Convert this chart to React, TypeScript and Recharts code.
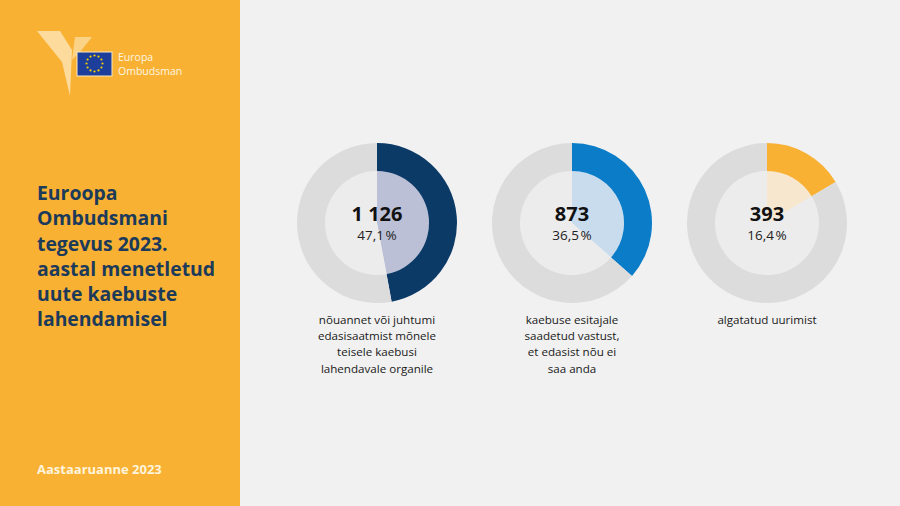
import { PieChart, Pie, Cell } from 'recharts';

// Values
const categories = [
  'nõuannet või juhtumi edasisaatmist mõnele teisele kaebusi lahendavale organile',
  'kaebuse esitajale saadetud vastust, et edasist nõu ei saa anda',
  'algatatud uurimist',
];
const counts = [1126, 873, 393];
const countLabels = ['1 126', '873', '393'];
const shareLabels = ['47,1\u202F%', '36,5\u202F%', '16,4\u202F%'];
const labelLines = [
  ['nõuannet või juhtumi', 'edasisaatmist mõnele', 'teisele kaebusi', 'lahendavale organile'],
  ['kaebuse esitajale', 'saadetud vastust,', 'et edasist nõu ei', 'saa anda'],
  ['algatatud uurimist'],
];
const ringColors = ['#0b3a67', '#0a7cc8', '#f8b133'];
const innerColors = ['#bcc0d6', '#c9dcee', '#f8e7cf'];

const total = counts.reduce((a, b) => a + b, 0);
const centersX = [377, 572, 767];
const CY = 223;
const FONT = '"Open Sans", "Noto Sans", sans-serif';

function Logo() {
  const stars = Array.from({ length: 12 }, (_, i) => {
    const a = (i / 12) * Math.PI * 2;
    return { x: 94.5 + 8 * Math.cos(a), y: 63.5 + 8 * Math.sin(a) };
  });
  return (
    <svg width={240} height={110} style={{ position: 'absolute', left: 0, top: 0 }}>
      <polygon points="37,31 60,31 72,50 70,96 62,62" fill="#fde9c0" opacity={0.75} />
      <polygon points="75,37 92,37 80,52 72,60" fill="#fde9c0" opacity={0.6} />
      <rect x={77} y={52} width={35} height={24} fill="#1d3f9b" stroke="#fde9c0" strokeWidth={1} />
      {stars.map((s, i) => (
        <circle key={i} cx={s.x} cy={s.y} r={1.1} fill="#f5d000" />
      ))}
      <text x={118} y={61} fontSize={10.5} fill="#fff6e2" fontFamily={FONT}>Europa</text>
      <text x={118} y={75} fontSize={10.5} fill="#fff6e2" fontFamily={FONT}>Ombudsman</text>
    </svg>
  );
}

export default function App() {
  const titleLines = ['Euroopa', 'Ombudsmani', 'tegevus 2023.', 'aastal menetletud', 'uute kaebuste', 'lahendamisel'];
  return (
    <div style={{ position: 'absolute', left: 0, top: 0, width: 900, height: 506, background: '#f1f1f1', fontFamily: FONT, overflow: 'hidden' }}>
      <div style={{ position: 'absolute', left: 0, top: 0, width: 240, height: 506, background: '#f8b133' }}>
        <Logo />
        <div style={{ position: 'absolute', left: 37, top: 180, color: '#1c3a5a', fontWeight: 700, fontSize: 19.4, lineHeight: '25.3px' }}>
          {titleLines.map((l) => (
            <div key={l} style={{ whiteSpace: 'nowrap' }}>{l}</div>
          ))}
        </div>
        <div style={{ position: 'absolute', left: 37, top: 460, color: '#fff4dc', fontWeight: 700, fontSize: 13 }}>
          Aastaaruanne 2023
        </div>
      </div>

      <div style={{ position: 'absolute', left: 0, top: 0 }}>
        <PieChart width={900} height={506} margin={{ top: 0, right: 0, bottom: 0, left: 0 }}>
          {counts.map((v, i) => (
            <Pie
              key={'in' + i}
              data={[{ name: categories[i], value: v }, { name: 'muu', value: total - v }]}
              dataKey="value"
              cx={centersX[i]}
              cy={CY}
              innerRadius={0}
              outerRadius={52}
              startAngle={90}
              endAngle={-270}
              stroke="none"
              isAnimationActive={false}
            >
              <Cell fill={innerColors[i]} />
              <Cell fill="#ececec" />
            </Pie>
          ))}
          {counts.map((v, i) => (
            <Pie
              key={'out' + i}
              data={[{ name: categories[i], value: v }, { name: 'muu', value: total - v }]}
              dataKey="value"
              cx={centersX[i]}
              cy={CY}
              innerRadius={52}
              outerRadius={80}
              startAngle={90}
              endAngle={-270}
              stroke="none"
              isAnimationActive={false}
            >
              <Cell fill={ringColors[i]} />
              <Cell fill="#dcdcdc" />
            </Pie>
          ))}
        </PieChart>
      </div>

      {counts.map((_, i) => (
        <div key={'t' + i}>
          <div style={{ position: 'absolute', left: centersX[i] - 60, width: 120, top: 204, textAlign: 'center', fontWeight: 700, fontSize: 20, lineHeight: '20px', color: '#111' }}>
            {countLabels[i]}
          </div>
          <div style={{ position: 'absolute', left: centersX[i] - 60, width: 120, top: 228, textAlign: 'center', fontSize: 13.5, lineHeight: '14px', color: '#222' }}>
            {shareLabels[i]}
          </div>
          <div style={{ position: 'absolute', left: centersX[i] - 90, width: 180, top: 312, textAlign: 'center', fontSize: 11.6, lineHeight: '16.2px', color: '#1a1a1a' }}>
            {labelLines[i].map((l) => (
              <div key={l}>{l}</div>
            ))}
          </div>
        </div>
      ))}
    </div>
  );
}
